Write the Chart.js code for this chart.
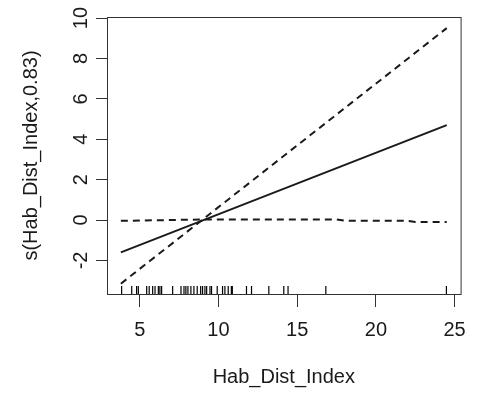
<!DOCTYPE html>
<html>
<head>
<meta charset="utf-8">
<script src="https://cdn.jsdelivr.net/npm/chart.js@4"></script>
<style>
  html, body { margin: 0; padding: 0; background: #fff; }
  #wrap { width: 477px; height: 394px; }
</style>
</head>
<body>
<div id="wrap"><canvas id="gam-plot" width="477" height="394"></canvas></div>
<script>
// fitted smooth and its +/- 2 se bounds
var fitX = [3.8, 24.5];
var fitY = [-1.6, 4.7];
var upperX = [3.8, 24.5];
var upperY = [-3.15, 9.5];
var lowerX = [3.8, 9.2, 17.5, 18.0, 22.0, 22.5, 24.5];
var lowerY = [-0.04, 0.03, 0.03, -0.03, -0.03, -0.1, -0.1];
// rug of observed Hab_Dist_Index values
var rugX = [3.85, 4.49, 4.80, 4.91, 5.44, 5.60, 5.82, 5.97, 6.18, 6.28, 6.39, 7.09,
  7.62, 7.81, 7.93, 8.06, 8.25, 8.44, 8.65, 8.87, 8.99, 9.14, 9.25, 9.46, 9.56,
  9.92, 10.26, 10.41, 10.62, 10.82, 10.88, 11.78, 12.10, 13.2, 14.15, 14.42, 16.82, 24.48];
var rugLevel = -3.46;
var xTicks = [5, 10, 15, 20, 25];
var yTicks = [-2, 0, 2, 4, 6, 8, 10];

function pts(xs, ys) {
  return xs.map(function (x, i) { return { x: x, y: ys[i] }; });
}

var boxPlugin = {
  id: 'box',
  afterDraw: function (chart) {
    var a = chart.chartArea, c = chart.ctx;
    c.save();
    c.strokeStyle = '#333';
    c.lineWidth = 1;
    c.strokeRect(a.left + 0.5, a.top + 0.5, a.right - a.left, a.bottom - a.top);
    c.restore();
  }
};

document.addEventListener('DOMContentLoaded', function () {
  var ctx = document.getElementById('gam-plot').getContext('2d');
  var font = { family: '"Liberation Sans", Arial, sans-serif', size: 20 };
  new Chart(ctx, {
    type: 'scatter',
    data: {
      datasets: [{
        data: pts(fitX, fitY),
        showLine: true, borderColor: '#1a1a1a', borderWidth: 2, pointRadius: 0
      }, {
        data: pts(upperX, upperY),
        showLine: true, borderColor: '#1a1a1a', borderWidth: 2, borderDash: [7, 5], pointRadius: 0
      }, {
        data: pts(lowerX, lowerY),
        showLine: true, borderColor: '#1a1a1a', borderWidth: 2, borderDash: [7, 5], pointRadius: 0
      }, {
        data: rugX.map(function (x) { return { x: x, y: rugLevel }; }),
        pointStyle: 'line', rotation: 90, radius: 4, borderWidth: 1.2,
        borderColor: '#000', backgroundColor: '#000'
      }]
    },
    options: {
      responsive: false,
      animation: false,
      layout: { padding: { top: 17, right: 16, left: 0, bottom: 0 } },
      plugins: { legend: { display: false }, tooltip: { enabled: false } },
      scales: {
        x: {
          type: 'linear', min: 2.92, max: 25.38,
          afterBuildTicks: function (s) { s.ticks = xTicks.map(function (v) { return { value: v }; }); },
          afterFit: function (s) { s.height = 100; },
          border: { display: false },
          grid: { drawOnChartArea: false, drawTicks: true, tickLength: 13, color: '#333' },
          ticks: { color: '#1a1a1a', font: font, padding: 11, maxRotation: 0 },
          title: { display: true, text: 'Hab_Dist_Index', color: '#1a1a1a', font: font, padding: { top: 0, bottom: 5 } }
        },
        y: {
          type: 'linear', min: -3.66, max: 10.05,
          afterBuildTicks: function (s) { s.ticks = yTicks.map(function (v) { return { value: v }; }); },
          afterFit: function (s) { s.width = 107; },
          border: { display: false },
          grid: { drawOnChartArea: false, drawTicks: true, tickLength: 11, color: '#333' },
          ticks: { color: '#1a1a1a', font: font, padding: 3, minRotation: 90, maxRotation: 90, crossAlign: 'center' },
          title: { display: true, text: 's(Hab_Dist_Index,0.83)', color: '#1a1a1a', font: font, padding: { top: 19, bottom: 0 } }
        }
      }
    },
    plugins: [boxPlugin]
  });
});
</script>
</body>
</html>
